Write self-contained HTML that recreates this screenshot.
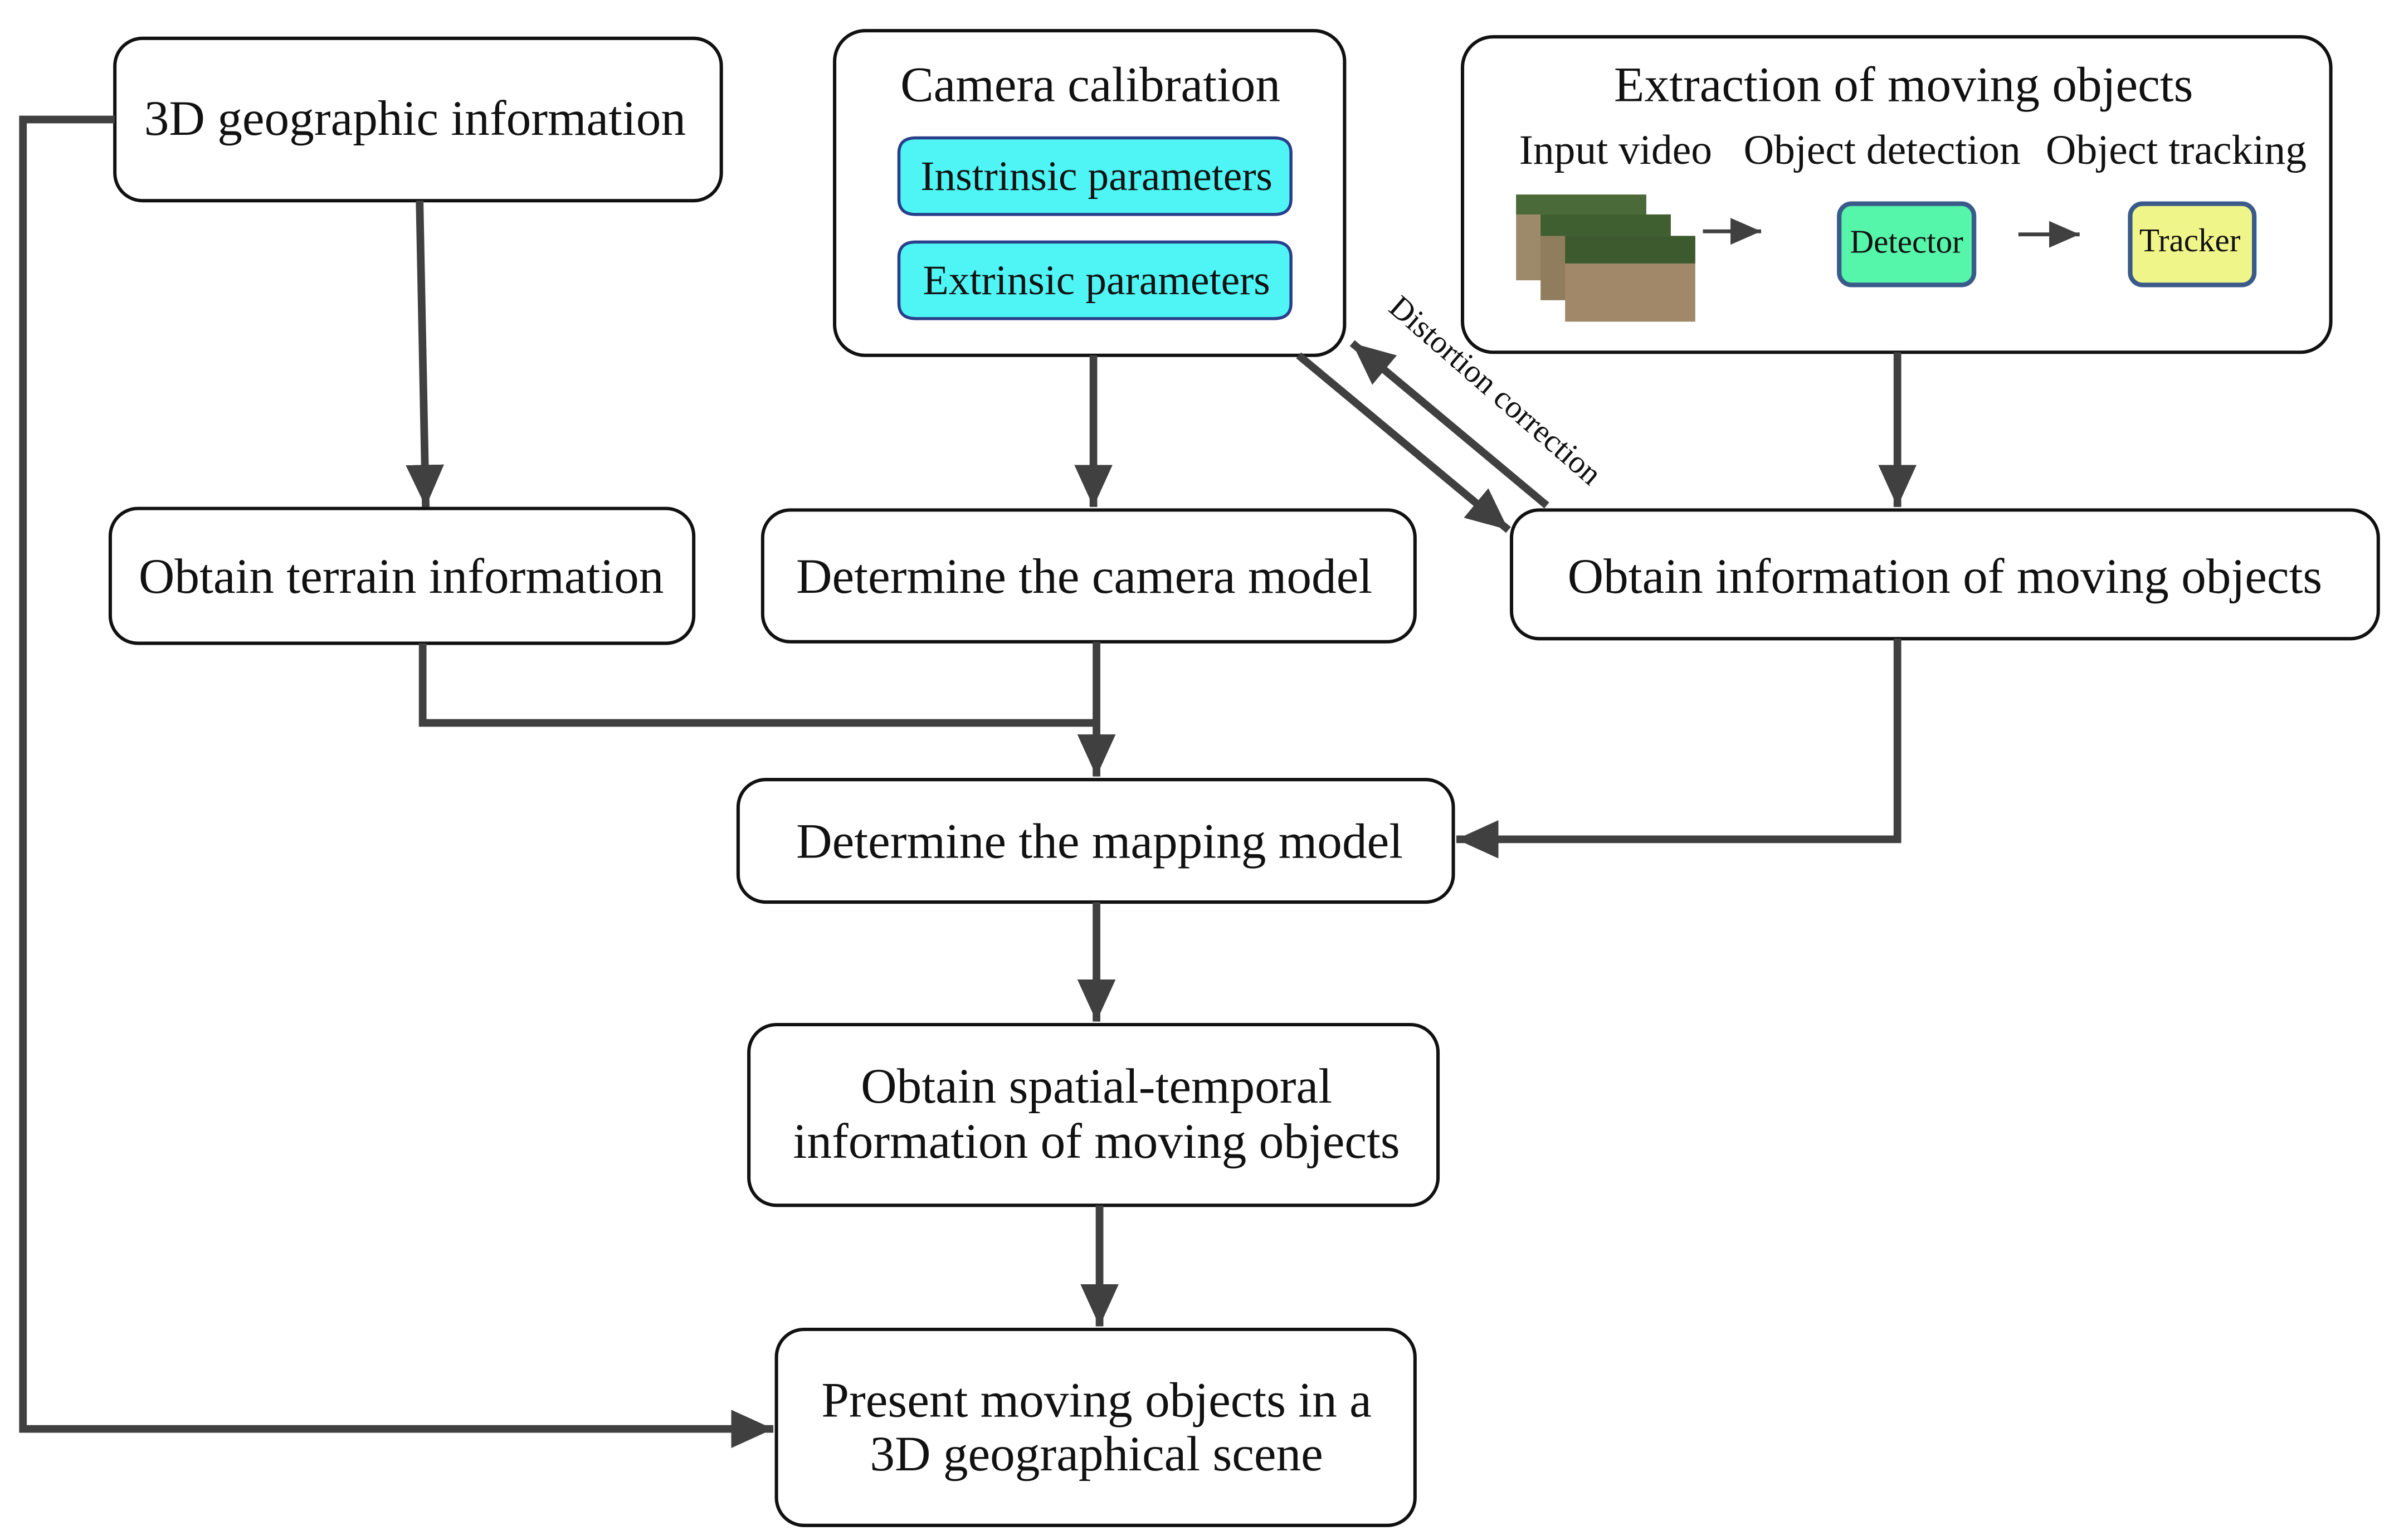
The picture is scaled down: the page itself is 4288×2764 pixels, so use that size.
<!DOCTYPE html>
<html><head><meta charset="utf-8"><style>
html,body{margin:0;padding:0;background:#fff}
svg{display:block}
text{font-family:"Liberation Serif",serif;fill:#111}
</style></head><body>
<svg width="4288" height="2764" viewBox="0 0 1560 1005.5" xmlns="http://www.w3.org/2000/svg">
<defs>
<marker id="a" markerWidth="5.5" markerHeight="5" refX="5.5" refY="2.5" orient="auto" markerUnits="strokeWidth">
<path d="M0,0 L5.5,2.5 L0,5 z" fill="#404040"/></marker>
<marker id="s" markerWidth="8" markerHeight="8" refX="8" refY="4" orient="auto" markerUnits="strokeWidth">
<path d="M0,0.5 L8,4 L0,7.5 z" fill="#404040"/></marker>
</defs>
<g fill="#fff" stroke="#111" stroke-width="2.2">
<rect x="75" y="25" width="396" height="106" rx="18"/>
<rect x="545" y="20" width="333" height="212" rx="20"/>
<rect x="955" y="24" width="567" height="206" rx="20"/>
<rect x="72" y="332" width="381" height="88" rx="18"/>
<rect x="498" y="333" width="426" height="86" rx="18"/>
<rect x="987" y="333" width="566" height="84" rx="18"/>
<rect x="482" y="509" width="467" height="80" rx="18"/>
<rect x="489" y="669" width="450" height="118" rx="18"/>
<rect x="507" y="868" width="417" height="128" rx="18"/>
</g>
<g fill="#4ff5f5" stroke="#2a3f8a" stroke-width="2">
<path d="M598,90 H832 Q843,90 843,100 V130 Q843,140 832,140 H598 Q587,140 587,130 V100 Q587,90 598,90 z"/>
<path d="M598,158 H832 Q843,158 843,168 V198 Q843,208 832,208 H598 Q587,208 587,198 V168 Q587,158 598,158 z"/>
</g>
<rect x="1201" y="133" width="88" height="53" rx="8" fill="#55f5aa" stroke="#3a5a8a" stroke-width="3"/>
<rect x="1391" y="133" width="81" height="53" rx="8" fill="#f0f58a" stroke="#3a5a8a" stroke-width="3"/>
<g>
<rect x="990" y="127" width="85" height="56" fill="#9c8a6a"/>
<rect x="1006" y="140" width="85" height="56" fill="#8f7d5e"/>
<rect x="1022" y="154" width="85" height="56" fill="#a08868"/>
<rect x="1022" y="154" width="85" height="18" fill="#3c5a2e"/>
<rect x="1006" y="140" width="85" height="14" fill="#3f5f30"/>
<rect x="990" y="127" width="85" height="13" fill="#4a6a3a"/>
</g>
<g stroke="#404040" stroke-width="5" fill="none">
<polyline points="75,78 15,78 15,933 505,933" marker-end="url(#a)"/>
<line x1="274" y1="131" x2="278" y2="331" marker-end="url(#a)"/>
<line x1="714" y1="232" x2="714" y2="331" marker-end="url(#a)"/>
<line x1="848" y1="232" x2="985" y2="346" marker-end="url(#a)"/>
<line x1="1010" y1="330" x2="883" y2="224" marker-end="url(#a)"/>
<line x1="1239" y1="230" x2="1239" y2="331" marker-end="url(#a)"/>
<polyline points="276,420 276,472 716,472"/>
<line x1="716" y1="419" x2="716" y2="507" marker-end="url(#a)"/>
<polyline points="1239,417 1239,548 951,548" marker-end="url(#a)"/>
<line x1="716" y1="589" x2="716" y2="667" marker-end="url(#a)"/>
<line x1="718" y1="787" x2="718" y2="866" marker-end="url(#a)"/>
</g>
<g stroke="#404040" stroke-width="2.5" fill="none">
<line x1="1112" y1="151" x2="1150" y2="151" marker-end="url(#s)"/>
<line x1="1318" y1="153" x2="1358" y2="153" marker-end="url(#s)"/>
</g>
<g font-size="32.5" text-anchor="middle">
<text x="271" y="88">3D geographic information</text>
<text x="712" y="66">Camera calibration</text>
<text x="1243" y="66">Extraction of moving objects</text>
<text x="262" y="387">Obtain terrain information</text>
<text x="708" y="387">Determine the camera model</text>
<text x="1270" y="387">Obtain information of moving objects</text>
<text x="718" y="560">Determine the mapping model</text>
<text x="716" y="720">Obtain spatial-temporal</text>
<text x="716" y="756">information of moving objects</text>
<text x="716" y="925">Present moving objects in a</text>
<text x="716" y="960">3D geographical scene</text>
</g>
<g font-size="27.5" text-anchor="middle">
<text x="716" y="124">Instrinsic parameters</text>
<text x="716" y="192">Extrinsic parameters</text>
<text x="1055" y="107">Input video</text>
<text x="1229" y="107">Object detection</text>
<text x="1421" y="107">Object tracking</text>
</g>
<g font-size="21.5" text-anchor="middle">
<text x="1245" y="165">Detector</text>
<text x="1430" y="164">Tracker</text>
</g>
<text font-size="21" text-anchor="middle" transform="translate(972,260) rotate(41)">Distortion correction</text>
</svg>
</body></html>
